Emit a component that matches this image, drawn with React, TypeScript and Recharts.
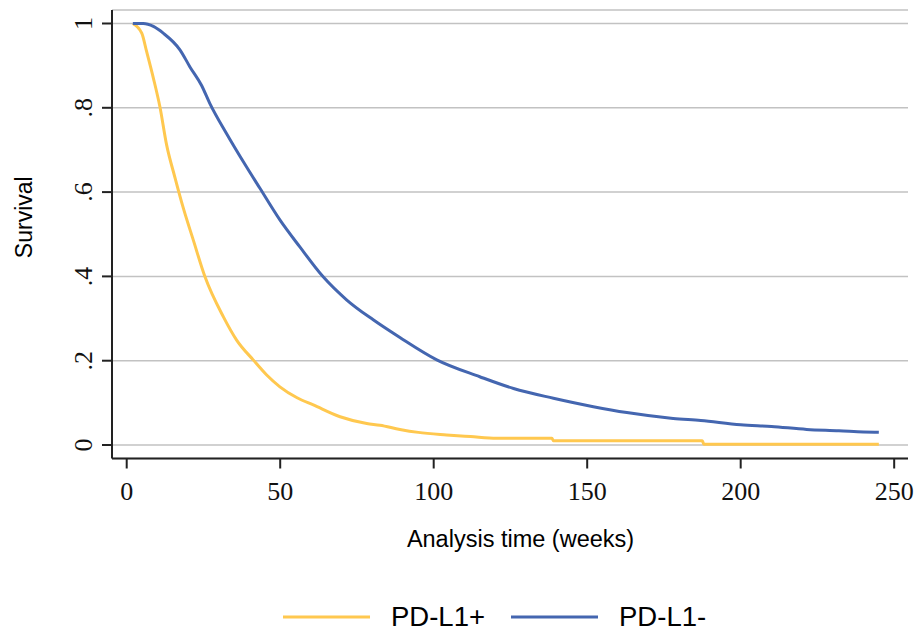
import React from 'react';
import { LineChart, Line, XAxis, YAxis, CartesianGrid, Legend, Label } from 'recharts';

// PD-L1+ (yellow) Kaplan-Meier estimate
const plusTime = [2, 4.9, 6.5, 8.7, 10.8, 13, 15.7, 18.4, 21.7, 25.5, 31.5, 35.8, 41.2, 45.6, 49.9, 55.5, 60.8, 69.5, 78.2, 82.5, 89, 95, 104.2, 112, 120.5, 138.5, 139, 187.5, 188, 245];
const plusSurv = [1.0, 0.977, 0.933, 0.87, 0.803, 0.712, 0.635, 0.563, 0.486, 0.399, 0.304, 0.249, 0.202, 0.166, 0.138, 0.112, 0.095, 0.067, 0.051, 0.047, 0.037, 0.03, 0.024, 0.02, 0.016, 0.016, 0.01, 0.01, 0.002, 0.002];

// PD-L1- (blue) Kaplan-Meier estimate
const minusTime = [2, 5.4, 8.7, 11.9, 17.4, 20.6, 24.4, 27.1, 32.6, 38, 43.4, 49.9, 56.4, 64, 71.7, 80.3, 89, 101, 115, 126, 139, 152, 162.9, 178, 187, 200, 210, 221.5, 232, 240, 245];
const minusSurv = [1.0, 1.0, 0.993, 0.977, 0.937, 0.897, 0.853, 0.81, 0.738, 0.672, 0.609, 0.534, 0.47, 0.399, 0.344, 0.297, 0.255, 0.202, 0.162, 0.134, 0.111, 0.091, 0.077, 0.063, 0.058, 0.048, 0.044, 0.037, 0.034, 0.031, 0.03];

const seriesNames = ['PD-L1+', 'PD-L1-'];
const seriesColors = ['#FFC84F', '#4466B0'];

const xTicks = [0, 50, 100, 150, 200, 250];
const yTicks = [0, 0.2, 0.4, 0.6, 0.8, 1];
const yTickLabels = ['0', '.2', '.4', '.6', '.8', '1'];

const xTitle = 'Analysis time (weeks)';
const yTitle = 'Survival';

const plusData = plusTime.map((t, i) => ({ t, s: plusSurv[i] }));
const minusData = minusTime.map((t, i) => ({ t, s: minusSurv[i] }));

const SERIF = "'Times New Roman', 'Liberation Serif', serif";
const SANS = "Arial, 'Liberation Sans', sans-serif";

const YTick = (props: any) => {
  const { x, y, payload } = props;
  const idx = yTicks.findIndex((v) => Math.abs(v - payload.value) < 1e-9);
  const label = idx >= 0 ? yTickLabels[idx] : String(payload.value);
  return (
    <text
      x={x}
      y={y}
      transform={`rotate(-90, ${x}, ${y})`}
      textAnchor="middle"
      fontFamily={SERIF}
      fontSize={26}
      fill="#111"
    >
      {label}
    </text>
  );
};

const XTitle = (props: any) => {
  const vb = props.viewBox || {};
  const cx = vb.x + vb.width / 2 + 10.5;
  const by = vb.y + 88;
  return (
    <text x={cx} y={by} textAnchor="middle" fontFamily={SANS} fontSize={23.5} fill="#000">
      {xTitle}
    </text>
  );
};

const YTitle = (props: any) => {
  const vb = props.viewBox || {};
  const bx = vb.x + 32;
  const cy = vb.y + vb.height / 2 - 17;
  return (
    <text
      x={bx}
      y={cy}
      transform={`rotate(-90, ${bx}, ${cy})`}
      textAnchor="middle"
      fontFamily={SANS}
      fontSize={23}
      fill="#000"
    >
      {yTitle}
    </text>
  );
};

const renderLegend = (props: any) => {
  const payload = props.payload || [];
  return (
    <div
      style={{
        display: 'flex',
        alignItems: 'center',
        paddingLeft: 283,
        height: 27,
        fontFamily: SANS,
        fontSize: 27.5,
        lineHeight: '27px',
        color: '#000',
      }}
    >
      {payload.map((p: any, i: number) => (
        <div key={i} style={{ display: 'flex', alignItems: 'center', height: 27 }}>
          <svg width={87} height={6} style={{ display: 'block' }}>
            <line x1={0} y1={3} x2={87} y2={3} stroke={p.color} strokeWidth={3} />
          </svg>
          <span style={{ marginLeft: 21, marginRight: 26, whiteSpace: 'nowrap', lineHeight: '27px' }}>{p.value}</span>
        </div>
      ))}
    </div>
  );
};

export default function App() {
  return (
    <div style={{ position: 'absolute', left: 0, top: 0, width: 923, height: 633, background: '#fff' }}>
      <LineChart width={923} height={633} margin={{ top: 10, right: 15, bottom: 0, left: 0 }}>
        <CartesianGrid horizontal vertical={false} stroke="#c2c2c2" strokeWidth={1.5} />
        <XAxis
          type="number"
          dataKey="t"
          domain={[-4.79, 254.5]}
          ticks={xTicks}
          interval={0}
          allowDataOverflow
          height={174.5}
          axisLine={{ stroke: '#222', strokeWidth: 2 }}
          tickLine={{ stroke: '#222', strokeWidth: 2 }}
          tickSize={10}
          tickMargin={13}
          tick={{ fontFamily: SERIF, fontSize: 26, fill: '#111' }}
        >
          <Label content={<XTitle />} />
        </XAxis>
        <YAxis
          type="number"
          domain={[-0.032, 1.032]}
          ticks={yTicks}
          interval={0}
          allowDataOverflow
          width={112}
          axisLine={{ stroke: '#222', strokeWidth: 2 }}
          tickLine={{ stroke: '#222', strokeWidth: 2 }}
          tickSize={10}
          tickMargin={10}
          tick={<YTick />}
        >
          <Label content={<YTitle />} />
        </YAxis>
        <Line
          data={plusData}
          dataKey="s"
          name={seriesNames[0]}
          type="monotone"
          stroke={seriesColors[0]}
          strokeWidth={3}
          dot={false}
          activeDot={false}
          isAnimationActive={false}
        />
        <Line
          data={minusData}
          dataKey="s"
          name={seriesNames[1]}
          type="monotone"
          stroke={seriesColors[1]}
          strokeWidth={3}
          dot={false}
          activeDot={false}
          isAnimationActive={false}
        />
        <Legend
          layout="horizontal"
          verticalAlign="middle"
          align="center"
          wrapperStyle={{ top: 603, left: 0, width: 923, height: 27 }}
          content={renderLegend}
        />
      </LineChart>
    </div>
  );
}
